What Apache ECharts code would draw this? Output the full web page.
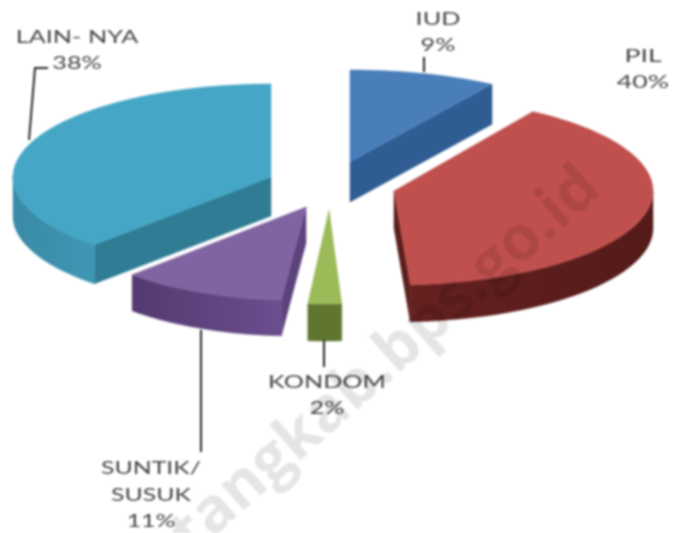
<!DOCTYPE html>
<html><head><meta charset="utf-8">
<style>html,body{margin:0;padding:0;background:#fff}#c{width:674px;height:533px;filter:blur(0.8px)}</style>
<script src="https://cdn.jsdelivr.net/npm/echarts@6/dist/echarts.min.js"></script>
</head><body><div id="c"></div>
<script>
// Data
const categories = ['IUD', 'PIL', 'KONDOM', 'SUNTIK/\nSUSUK', 'LAIN- NYA'];
const values = [9, 40, 2, 11, 38];
// Appearance
const topColors = ['#4a7ebb', '#c0504d', '#9bbb59', '#8064a2', '#45a6c6'];
const radialWallColors = ['#2f5c92', '#5a1f1c', '#5f7530', '#5c437c', '#2f7c94'];
const outerWallStart = ['#2f5c92', '#541b19', '#5f7530', '#6a4e8e', '#3f97b4'];
const outerWallEnd = ['#2f5c92', '#642120', '#5f7530', '#53396f', '#3a8aa5'];
// Pie projection and per-slice explosion
const pieCenter = [330, 190];
const explodeX = [20, 64, -1, -24, -59];
const explodeY = [-28, 1, 20, 17, -13];
const radiusX = [265, 259, 270, 244, 258];
const radiusY = [92, 94, 94, 93, 93];
const skew = [0, 0, -0.045, -0.1, 0];
const depth = [40, 37, 37, 36, 39];
// Text placement
const labelX = [438, 643, 327, 151, 77];
const labelY = [32, 69, 395, 495, 50];
const labelStretch = [1.4, 1.48, 1.4, 1.38, 1.4];
const leaderPaths = [
  [[424, 57], [424, 72]],
  [[48, 68], [35, 68], [29, 140]],
  [[324, 340], [324, 367]],
  [[201, 330], [201, 452]]
];

const total = values.reduce((a, b) => a + b, 0);
const DEG = Math.PI / 180;
function startAngle(i) {
  let s = 0;
  for (let k = 0; k < i; k++) s += values[k];
  return s / total * 360;
}
function point(i, a, r) {
  const ax = pieCenter[0] + explodeX[i], ay = pieCenter[1] + explodeY[i];
  const dy = -Math.cos(a * DEG) * radiusY[i] * r;
  return [ax + Math.sin(a * DEG) * radiusX[i] * r + skew[i] * dy, ay + dy];
}
function poly(points, fill, z2) {
  return { type: 'polygon', shape: { points }, z2, style: { fill, stroke: fill, lineWidth: 0.5 } };
}
function renderSlice(params, api) {
  const i = params.dataIndex;
  const a0 = startAngle(i), a1 = a0 + api.value(0) / total * 360;
  const d = depth[i], apex = point(i, 0, 0);
  const arc = [];
  const n = Math.max(2, Math.ceil((a1 - a0) / 2));
  for (let k = 0; k <= n; k++) arc.push(point(i, a0 + (a1 - a0) * k / n, 1));
  const down = p => [p[0], p[1] + d];
  const children = [];
  // radial walls
  if (Math.sin(a1 * DEG) > 0.001) {
    const e = point(i, a1, 1);
    children.push(poly([apex, e, down(e), down(apex)], radialWallColors[i], 1));
  }
  if (Math.sin(a0 * DEG) < -0.001) {
    const e = point(i, a0, 1);
    children.push(poly([apex, e, down(e), down(apex)], radialWallColors[i], 1));
  }
  // outer wall (front half only)
  const front = arc.filter((p, k) => {
    const a = a0 + (a1 - a0) * k / n;
    return Math.cos(a * DEG) <= 0.02;
  });
  if (front.length > 1) {
    const wall = front.concat(front.slice().reverse().map(down));
    children.push(poly(wall, {
      type: 'linear', x: 0, y: 0, x2: 1, y2: 0,
      colorStops: [{ offset: 0, color: outerWallEnd[i] }, { offset: 1, color: outerWallStart[i] }]
    }, 2));
  }
  // top face
  children.push(poly([apex].concat(arc), topColors[i], 3));
  return { type: 'group', children };
}

const labelGraphics = categories.map((name, i) => ({
  type: 'text', x: labelX[i], y: labelY[i], scaleX: labelStretch[i], z: 5,
  style: {
    text: name + '\n' + values[i] + '%',
    font: '18px Lato', fill: '#454545', align: 'center', verticalAlign: 'middle', lineHeight: 26.5
  }
}));
const leaderGraphics = leaderPaths.map(points => ({
  type: 'polyline', z: 4, shape: { points },
  style: { stroke: '#262626', lineWidth: 2, fill: null }
}));
const watermark = {
  type: 'text', x: 386, y: 361, rotation: 41.5 * DEG, z: 10,
  style: {
    text: 'tangkab.bps.go.id', font: 'bold 62px "Open Sans"',
    fill: 'rgba(0,0,0,0.1)', align: 'center', verticalAlign: 'middle'
  }
};

const chart = echarts.init(document.getElementById('c'));
chart.setOption({
  animation: false,
  backgroundColor: '#fff',
  series: [{
    type: 'custom', coordinateSystem: 'none', silent: true,
    renderItem: renderSlice,
    encode: { value: 0 },
    data: values.map((v, i) => ({ name: categories[i], value: [v] }))
  }],
  graphic: [...leaderGraphics, ...labelGraphics, watermark]
});
</script></body></html>
